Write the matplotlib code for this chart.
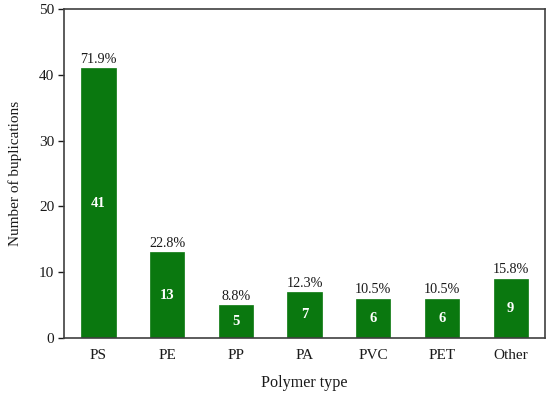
import matplotlib
matplotlib.use("Agg")
import matplotlib.pyplot as plt

categories = ["PS", "PE", "PP", "PA", "PVC", "PET", "Other"]
counts = [41, 13, 5, 7, 6, 6, 9]
percent_labels = ["71.9%", "22.8%", "8.8%", "12.3%", "10.5%", "10.5%", "15.8%"]
y_ticks = [0, 10, 20, 30, 40, 50]

plt.rcParams['font.family'] = ['Liberation Serif', 'DejaVu Serif']

fig = plt.figure(figsize=(5.5, 3.95), dpi=100)
ax = fig.add_axes([0.1164, 0.1443, 0.991 - 0.1164, 0.977 - 0.1443])

green = '#0a780f'
x = list(range(len(categories)))
bars = ax.bar(x, counts, width=0.5, color=green, edgecolor=green, linewidth=0.5)

for xi, c, p in zip(x, counts, percent_labels):
    ax.text(xi, c + 0.35, p, ha='center', va='bottom', fontsize=10.2, color='#1a1a1a')
    ax.text(xi, c / 2, str(c), ha='center', va='center', fontsize=10.5,
            color='white', fontweight='bold')

ax.set_xlim(-0.5, 6.5)
ax.set_ylim(0, 50)
ax.set_yticks(y_ticks)
ax.set_xticks(x)
ax.set_xticklabels(categories)
ax.tick_params(axis='y', direction='out', length=4, width=1, labelsize=11, colors='#1a1a1a', pad=3)
ax.tick_params(axis='x', length=0, labelsize=11, colors='#1a1a1a', pad=8)

for s in ax.spines.values():
    s.set_color('#404040')
    s.set_linewidth(1.2)

ax.set_xlabel("Polymer type", fontsize=11.6, labelpad=9, color='#1a1a1a')
ax.set_ylabel("Number of buplications", fontsize=11, labelpad=12, color='#1a1a1a')

fig.savefig("out.png", dpi=100)
